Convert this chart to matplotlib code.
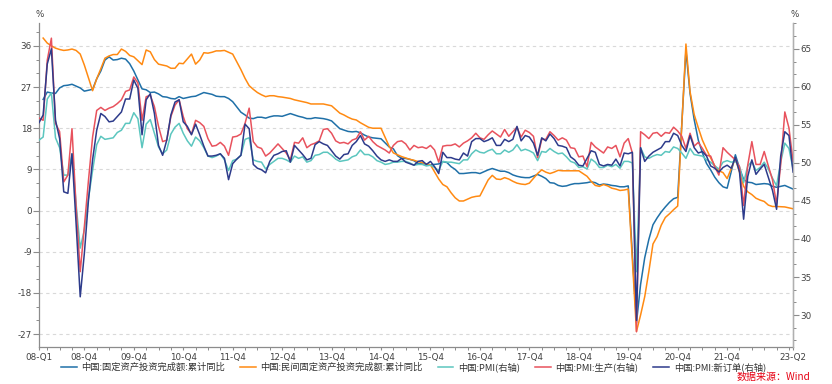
import matplotlib.pyplot as plt
from matplotlib.ticker import MultipleLocator, FixedLocator
import numpy as np

plt.rcParams['font.family'] = ['Noto Sans CJK SC', 'DejaVu Sans']
plt.rcParams['axes.unicode_minus'] = False

## data
# PMI series, monthly from 2008-01 to 2023-04 (right axis)
pmi = [53.0, 53.4, 58.4, 59.2, 53.3, 52.0, 48.4, 48.4, 51.2, 44.6, 38.8, 41.2,
       45.3, 49.0, 52.4, 53.5, 53.1, 53.2, 53.3, 54.0, 54.3, 55.2, 55.2, 56.6,
       55.8, 52.0, 55.1, 55.7, 53.9, 52.1, 51.2, 51.7, 53.8, 54.7, 55.2, 53.9,
       52.9, 52.2, 53.4, 52.9, 52.0, 50.9, 50.7, 50.9, 51.2, 50.4, 49.0, 50.3,
       50.5, 51.0, 53.1, 53.3, 50.4, 50.2, 50.1, 49.2, 49.8, 50.2, 50.6, 50.6,
       50.4, 50.1, 50.9, 50.6, 50.8, 50.1, 50.3, 51.0, 51.1, 51.4, 51.4, 51.0,
       50.5, 50.2, 50.3, 50.4, 50.8, 51.0, 51.7, 51.1, 51.1, 50.8, 50.3, 50.1,
       49.8, 49.9, 50.1, 50.1, 50.2, 50.2, 50.0, 49.7, 49.8, 49.8, 49.6, 49.7,
       49.4, 49.0, 50.2, 50.1, 50.1, 50.0, 49.9, 50.4, 50.4, 51.2, 51.7, 51.4,
       51.3, 51.6, 51.8, 51.2, 51.2, 51.7, 51.4, 51.7, 52.4, 51.6, 51.8, 51.6,
       51.3, 50.3, 51.5, 51.4, 51.9, 51.5, 51.2, 51.3, 50.8, 50.2, 50.0, 49.4,
       49.5, 49.2, 50.5, 50.1, 49.4, 49.4, 49.7, 49.5, 49.8, 49.3, 50.2, 50.2,
       50.0, 35.7, 52.0, 50.8, 50.6, 50.9, 51.1, 51.0, 51.5, 51.4, 52.1, 51.9,
       51.3, 50.6, 51.9, 51.1, 51.0, 50.9, 50.4, 50.1, 49.6, 49.2, 50.1, 50.3,
       50.1, 50.2, 49.5, 47.4, 49.6, 50.2, 49.0, 49.4, 50.1, 49.2, 48.0, 47.0,
       50.1, 52.6, 51.9, 49.2]

pmi_prod = [55.9, 55.6, 63.5, 66.4, 55.2, 54.1, 47.5, 48.4, 54.5, 44.2, 35.7, 41.6,
            47.7, 53.4, 56.9, 57.3, 56.9, 57.2, 57.4, 57.8, 58.3, 59.4, 59.6, 61.3,
            60.5, 55.6, 58.7, 58.9, 57.4, 54.8, 52.8, 53.0, 56.1, 57.6, 58.3, 56.1,
            54.5, 53.8, 55.6, 55.3, 54.8, 53.2, 52.2, 52.3, 52.7, 52.2, 51.0, 53.4,
            53.5, 53.8, 55.2, 57.2, 52.8, 52.1, 51.9, 50.9, 51.3, 51.9, 52.5, 51.9,
            51.3, 50.4, 52.7, 52.6, 53.3, 52.0, 52.4, 52.6, 52.9, 54.4, 54.5, 53.9,
            52.9, 52.6, 52.7, 52.5, 53.0, 53.2, 54.1, 53.0, 53.5, 52.8, 52.3, 52.0,
            51.7, 51.3, 52.3, 52.8, 52.9, 52.5, 51.7, 52.3, 52.0, 52.1, 51.9, 52.3,
            51.7, 50.1, 52.2, 52.3, 52.3, 52.5, 52.1, 52.6, 52.9, 53.3, 53.9, 53.3,
            53.1, 53.7, 54.2, 53.8, 53.4, 54.4, 53.5, 54.1, 54.7, 53.4, 54.3, 54.0,
            53.5, 50.7, 53.1, 53.1, 54.1, 53.6, 53.0, 53.3, 53.0, 52.0, 51.9, 50.8,
            50.9, 49.5, 52.7, 52.1, 51.7, 51.3, 52.1, 51.9, 52.3, 50.8, 52.6, 53.2,
            51.3, 27.8, 54.1, 53.7, 53.2, 53.9, 54.0, 53.5, 54.0, 53.9, 54.7, 54.2,
            53.5, 51.9, 53.9, 52.2, 52.7, 51.9, 51.0, 50.9, 49.5, 48.4, 52.0, 51.4,
            50.9, 50.4, 49.5, 44.4, 49.7, 52.8, 49.8, 49.8, 51.5, 49.6, 47.8, 44.6,
            49.8, 56.7, 54.6, 50.2]

pmi_new = [55.3, 56.3, 63.0, 65.0, 55.6, 53.2, 46.2, 46.0, 51.2, 42.0, 32.4, 38.1,
           45.1, 50.4, 54.3, 56.5, 56.1, 55.4, 55.5, 56.1, 56.7, 58.4, 58.4, 60.9,
           59.8, 53.7, 58.3, 59.1, 56.5, 52.3, 51.0, 53.0, 56.3, 58.0, 58.3, 55.4,
           54.8, 53.7, 55.1, 53.7, 52.2, 50.9, 50.9, 51.0, 51.2, 50.6, 47.8, 49.9,
           50.5, 51.0, 55.1, 54.5, 49.8, 49.3, 49.1, 48.7, 50.2, 51.0, 51.2, 51.5,
           51.6, 50.1, 52.3, 51.7, 51.1, 50.4, 50.6, 52.4, 52.8, 52.5, 52.3, 51.6,
           50.9, 50.5, 51.1, 51.2, 52.3, 52.8, 53.6, 52.5, 52.2, 51.6, 50.9, 50.4,
           50.2, 50.4, 50.2, 50.2, 50.6, 50.1, 49.9, 49.7, 50.2, 50.3, 49.8, 50.2,
           49.5, 48.6, 51.4, 50.7, 50.7, 50.5, 50.4, 51.3, 50.9, 52.8, 53.2, 53.2,
           52.8, 53.0, 53.3, 52.3, 52.3, 53.1, 52.8, 53.1, 54.8, 52.9, 53.6, 53.4,
           52.6, 51.0, 53.3, 52.9, 53.8, 53.2, 52.3, 52.2, 52.0, 50.8, 50.4, 49.7,
           49.6, 50.6, 51.6, 51.4, 49.8, 49.6, 49.8, 49.7, 50.5, 49.6, 51.3, 51.2,
           51.4, 29.3, 52.0, 50.2, 50.9, 51.4, 51.7, 52.0, 52.8, 52.8, 53.9, 53.6,
           52.3, 51.5, 53.6, 52.0, 51.3, 51.5, 50.9, 49.6, 49.3, 48.8, 49.4, 49.7,
           49.3, 50.7, 48.8, 42.6, 48.2, 50.4, 48.5, 49.2, 49.8, 48.1, 46.4, 43.9,
           50.9, 54.1, 53.6, 48.8]

# fixed asset investment, cumulative yoy, Feb..Dec each year (left axis)
fai = [24.3, 25.9, 25.7, 25.6, 26.8, 27.3, 27.4, 27.6, 27.2, 26.8, 26.1,
       26.5, 28.8, 30.5, 32.9, 33.6, 32.9, 33.0, 33.3, 33.1, 32.1, 30.5,
       26.6, 26.4, 25.8, 25.9, 25.5, 24.9, 24.8, 24.5, 24.4, 24.9, 24.5,
       24.9, 25.0, 25.4, 25.8, 25.6, 25.4, 25.0, 24.9, 24.9, 24.5, 23.8,
       21.5, 20.9, 20.2, 20.1, 20.4, 20.4, 20.2, 20.5, 20.7, 20.7, 20.6,
       21.2, 20.9, 20.6, 20.4, 20.1, 20.1, 20.3, 20.2, 20.1, 19.9, 19.6,
       17.9, 17.6, 17.3, 17.2, 17.3, 17.0, 16.5, 16.1, 15.9, 15.8, 15.7,
       13.9, 13.5, 12.0, 11.4, 11.4, 11.2, 10.9, 10.3, 10.2, 10.2, 10.0,
       10.2, 10.7, 10.5, 9.6, 9.0, 8.1, 8.1, 8.2, 8.3, 8.3, 8.1,
       8.9, 9.2, 8.9, 8.6, 8.6, 8.3, 7.8, 7.5, 7.3, 7.2, 7.2,
       7.9, 7.5, 7.0, 6.1, 6.0, 5.5, 5.3, 5.4, 5.7, 5.9, 5.9,
       6.1, 6.3, 6.1, 5.6, 5.8, 5.7, 5.5, 5.4, 5.2, 5.2, 5.4,
       -24.5, -16.1, -10.3, -6.3, -3.1, -1.6, -0.3, 0.8, 1.8, 2.6, 2.9,
       35.0, 25.6, 19.9, 15.4, 12.6, 10.3, 8.9, 7.3, 6.1, 5.2, 4.9,
       12.2, 9.3, 6.8, 6.2, 6.1, 5.7, 5.8, 5.9, 5.8, 5.3, 5.1,
       5.5, 5.1, 4.7]

fai_private = [37.7, 36.6, 36.0, 35.5, 35.2, 35.0, 35.1, 35.3, 35.0, 34.2, 31.8,
               26.2, 28.8, 31.0, 33.3, 33.8, 34.1, 34.1, 35.3, 34.8, 33.9, 33.6,
               31.9, 35.1, 34.7, 33.0, 32.0, 31.8, 31.6, 31.1, 31.1, 32.2, 32.1,
               34.2, 32.0, 32.9, 34.5, 34.4, 34.6, 34.9, 34.9, 35.0, 34.6, 34.2,
               30.8, 28.9, 27.3, 26.5, 25.8, 25.3, 24.9, 25.1, 25.1, 24.9, 24.8,
               24.5, 24.2, 24.0, 23.8, 23.6, 23.3, 23.3, 23.3, 23.3, 23.1, 22.9,
               21.3, 20.9, 20.4, 20.0, 19.8, 19.2, 18.7, 18.2, 18.0, 18.0, 18.0,
               14.0, 12.6, 12.2, 11.8, 11.5, 11.2, 11.0, 10.7, 10.5, 10.2, 10.0,
               6.9, 5.7, 5.2, 3.9, 2.8, 2.1, 2.1, 2.5, 2.9, 3.1, 3.2,
               6.7, 7.7, 6.9, 6.8, 7.2, 6.9, 6.4, 6.0, 5.8, 5.7, 6.0,
               8.1, 8.9, 8.4, 8.1, 8.4, 8.8, 8.7, 8.7, 8.7, 8.7, 8.7,
               7.5, 6.4, 5.5, 5.3, 5.7, 5.4, 4.9, 4.7, 4.4, 4.5, 4.7,
               -26.4, -22.8, -18.8, -13.3, -7.3, -5.7, -3.2, -1.5, -0.7, 0.2, 1.0,
               36.4, 26.0, 21.0, 18.1, 15.4, 13.4, 11.5, 9.8, 8.7, 8.3, 7.0,
               11.4, 8.4, 5.3, 4.1, 3.5, 2.7, 2.3, 2.0, 1.2, 0.9, 0.9,
               0.8, 0.6, 0.4]

# x labels (08-Q1 at the start, Q4 = December, 23-Q2 at the end)
tick_labels = ['08-Q1', '08-Q4', '09-Q4', '10-Q4', '11-Q4', '12-Q4', '13-Q4', '14-Q4',
               '15-Q4', '16-Q4', '17-Q4', '18-Q4', '19-Q4', '20-Q4', '21-Q4', '23-Q2']

names = ['中国:固定资产投资完成额:累计同比', '中国:民间固定资产投资完成额:累计同比',
         '中国:PMI(右轴)', '中国:PMI:生产(右轴)', '中国:PMI:新订单(右轴)']
colors = ['#1f70a8', '#ff8a12', '#5cc6bf', '#e8525d', '#2d3b8b']

## x space (month index, 0 = 2008-01)
x_m = np.arange(len(pmi))
x_fai = np.array([m for m in range(1, len(pmi)) if m % 12 != 0])
tick_pos = [0] + [12 * k + 11 for k in range(14)] + [len(pmi) - 1]

## plot!
fig = plt.figure(figsize=(8.32, 3.84), dpi=100)
ax = fig.add_axes([0.0469, 0.0964, 0.9063, 0.8438])
ax2 = ax.twinx()

l1, = ax.plot(x_fai, fai, color=colors[0], lw=1.1, label=names[0])
l2, = ax.plot(x_fai, fai_private, color=colors[1], lw=1.1, label=names[1])
l3, = ax2.plot(x_m, pmi, color=colors[2], lw=1.1, label=names[2])
l4, = ax2.plot(x_m, pmi_prod, color=colors[3], lw=1.1, label=names[3])
l5, = ax2.plot(x_m, pmi_new, color=colors[4], lw=1.1, label=names[4])

## pretty~
ax.set_xlim(0, 183)
ax.set_ylim(-29.8, 41.0)
ax2.set_ylim(25.8, 68.4)

ax.set_yticks([36, 27, 18, 9, 0, -9, -18, -27])
ax.yaxis.set_minor_locator(MultipleLocator(3))
ax2.set_yticks([30, 35, 40, 45, 50, 55, 60, 65])
ax2.yaxis.set_minor_locator(MultipleLocator(5 / 3))
ax.set_xticks(tick_pos)
ax.set_xticklabels(tick_labels)
ax.xaxis.set_minor_locator(FixedLocator(np.arange(2, 184, 3)))

ax.grid(axis='y', color='#d9d9d9', lw=0.8, ls=(0, (3, 3)))
ax.set_axisbelow(True)

for a in (ax, ax2):
    a.spines['top'].set_visible(False)
    for s in ('left', 'bottom', 'right'):
        a.spines[s].set_color('#8c8c8c')
        a.spines[s].set_linewidth(0.9)
    a.tick_params(which='major', length=4, width=0.8, color='#8c8c8c',
                  labelsize=6.3, labelcolor='#404040', pad=1.2)
    a.tick_params(which='minor', length=2.5, width=0.7, color='#8c8c8c')
    for t in a.get_xticklabels() + a.get_yticklabels():
        t.set_family('DejaVu Sans')
ax.tick_params(axis='x', which='both', length=2.5, pad=1.5)
ax2.spines['left'].set_visible(False)
ax2.spines['bottom'].set_visible(False)
ax2.spines['right'].set_color('#b0b0b0')

fig.text(0.0475, 0.961, '%', fontsize=6.3, color='#404040', ha='center', va='center',
         family='DejaVu Sans')
fig.text(0.9555, 0.961, '%', fontsize=6.3, color='#404040', ha='center', va='center',
         family='DejaVu Sans')

fig.legend(handles=[l1, l2, l3, l4, l5], loc='center', bbox_to_anchor=(0.497, 0.044),
           ncol=5, frameon=False, fontsize=6.7, handlelength=1.7, handletextpad=0.5,
           columnspacing=1.6, labelcolor='#333333', borderpad=0.1)
fig.text(0.9736, 0.018, '数据来源：Wind', fontsize=7.2, color='#e60012',
         ha='right', va='center')

fig.savefig('out.png', dpi=100)
